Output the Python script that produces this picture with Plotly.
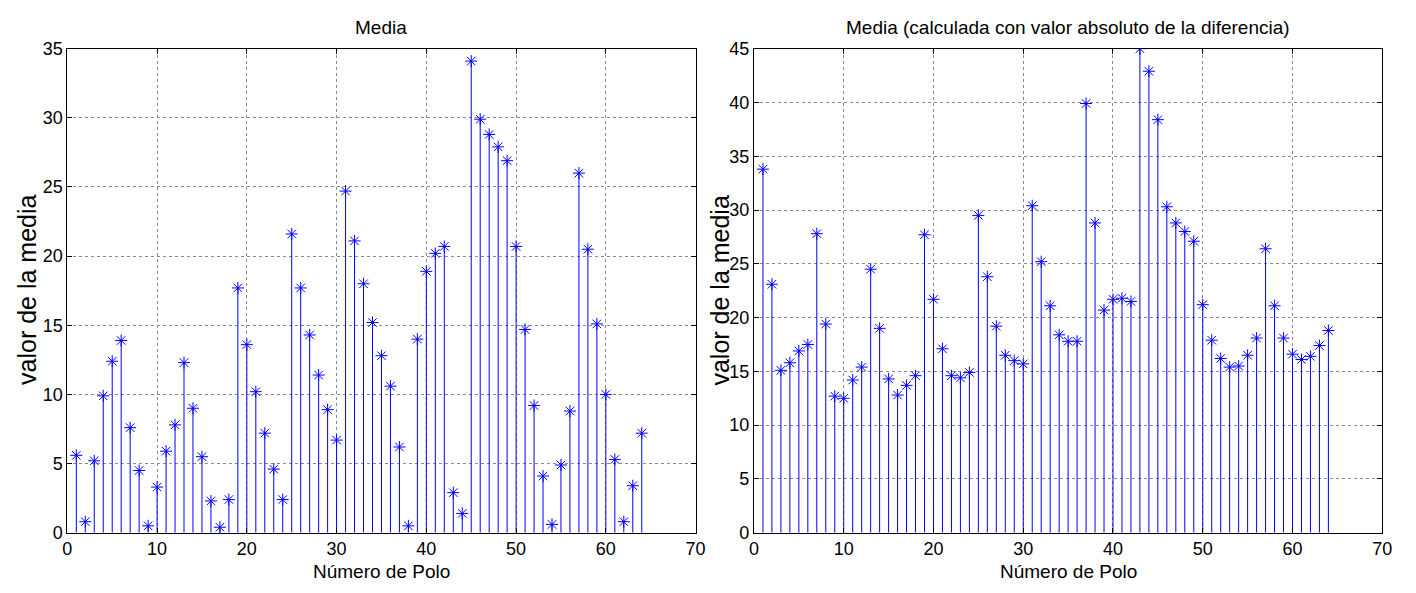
import plotly.graph_objects as go

polos = list(range(1, 65))

media = [5.6, 0.8, 5.2, 9.9, 12.4, 13.9, 7.6, 4.5, 0.5, 3.3,
         5.9, 7.8, 12.3, 9.0, 5.5, 2.3, 0.4, 2.4, 17.7, 13.6,
         10.2, 7.2, 4.6, 2.4, 21.6, 17.7, 14.3, 11.4, 8.9, 6.7,
         24.7, 21.1, 18.0, 15.2, 12.8, 10.6, 6.2, 0.5, 14.0, 18.9,
         20.2, 20.7, 2.9, 1.4, 34.1, 29.9, 28.8, 27.9, 26.9, 20.7,
         14.7, 9.2, 4.1, 0.6, 4.9, 8.8, 26.0, 20.5, 15.1, 10.0,
         5.3, 0.8, 3.4, 7.2]

media_abs = [33.8, 23.1, 15.1, 15.8, 16.9, 17.5, 27.8, 19.4, 12.7, 12.5,
             14.2, 15.4, 24.5, 19.0, 14.3, 12.8, 13.7, 14.6, 27.7, 21.7,
             17.1, 14.6, 14.4, 14.9, 29.5, 23.8, 19.2, 16.5, 16.0, 15.7,
             30.4, 25.2, 21.1, 18.4, 17.8, 17.8, 39.9, 28.8, 20.7, 21.7,
             21.8, 21.5, 45.0, 42.9, 38.4, 30.3, 28.8, 28.0, 27.1, 21.2,
             17.9, 16.2, 15.4, 15.5, 16.5, 18.1, 26.4, 21.1, 18.1, 16.6,
             16.1, 16.4, 17.4, 18.8]

xticks = [0, 10, 20, 30, 40, 50, 60, 70]
yticks1 = [0, 5, 10, 15, 20, 25, 30, 35]
yticks2 = [0, 5, 10, 15, 20, 25, 30, 35, 40, 45]

titles = ["Media", "Media (calculada con valor absoluto de la diferencia)"]
xlabel = "Número de Polo"
ylabel = "valor de la media"

BLUE = "#0000FF"
FONT = "Liberation Sans, Arial, sans-serif"

fig = go.Figure()

for i, vals in enumerate([media, media_abs]):
    suffix = "" if i == 0 else "2"
    fig.add_trace(go.Scatter(
        x=polos, y=vals, mode="markers",
        xaxis="x" + suffix, yaxis="y" + suffix,
        marker=dict(symbol="asterisk-open", size=10, color=BLUE,
                    line=dict(color=BLUE, width=1)),
        error_y=dict(type="data", symmetric=False,
                     array=[0] * len(vals), arrayminus=vals,
                     width=0, thickness=1, color=BLUE),
        showlegend=False, hoverinfo="x+y",
    ))

ydom = [(593 - 541) / 593, (593 - 40) / 593]
xdom1 = [63 / 1416, 698 / 1416]
xdom2 = [757 / 1416, 1392 / 1416]

axis_common = dict(
    showline=True, linecolor="black", linewidth=1, mirror="allticks",
    ticks="inside", ticklen=5, tickcolor="black",
    showgrid=True, gridcolor="#8a8a8a", griddash="dot", gridwidth=1,
    zeroline=False, tickfont=dict(family=FONT, size=18, color="black"),
)

fig.update_layout(
    width=1416, height=593,
    margin=dict(l=0, r=0, t=0, b=0),
    paper_bgcolor="white", plot_bgcolor="white",
    font=dict(family=FONT, color="black"),
    xaxis=dict(domain=xdom1, range=[0, 70], tickvals=xticks, anchor="y", **axis_common),
    yaxis=dict(domain=ydom, range=[0, 35], tickvals=yticks1, anchor="x", **axis_common),
    xaxis2=dict(domain=xdom2, range=[0, 70], tickvals=xticks, anchor="y2", **axis_common),
    yaxis2=dict(domain=ydom, range=[0, 45], tickvals=yticks2, anchor="x2", **axis_common),
)

annotations = []
for dom, t in zip([xdom1, xdom2], titles):
    cx = (dom[0] + dom[1]) / 2
    annotations.append(dict(x=cx, y=(593 - 18) / 593, xref="paper", yref="paper",
                            text=t, showarrow=False, font=dict(size=19, family=FONT),
                            xanchor="center", yanchor="middle"))
    annotations.append(dict(x=cx, y=(593 - 581) / 593, xref="paper", yref="paper",
                            text=xlabel, showarrow=False, font=dict(size=19, family=FONT),
                            xanchor="center", yanchor="middle"))
for xp in [22 / 1416, 723 / 1416]:
    annotations.append(dict(x=xp, y=(593 - 290) / 593, xref="paper", yref="paper",
                            text=ylabel, showarrow=False, textangle=-90,
                            font=dict(size=25, family=FONT),
                            xanchor="center", yanchor="middle"))
fig.update_layout(annotations=annotations)

fig.write_html("out.html")
